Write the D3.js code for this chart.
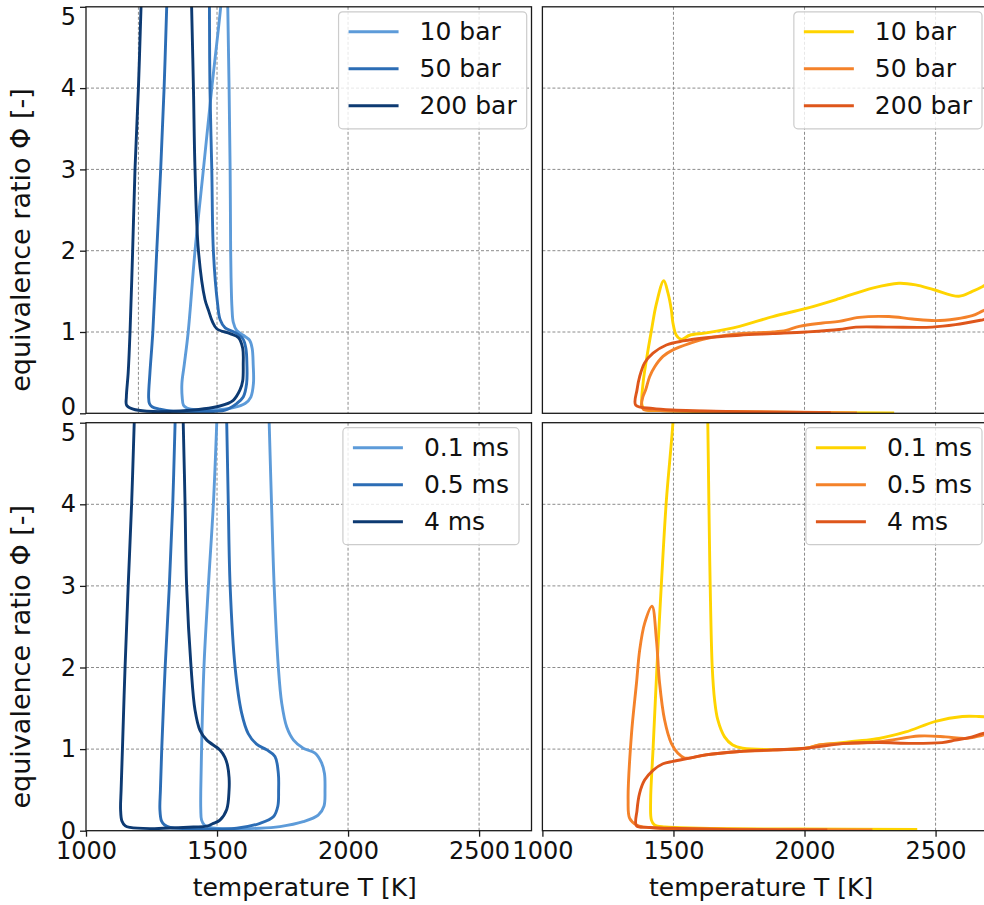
<!DOCTYPE html>
<html>
<head>
<meta charset="utf-8">
<script src="https://cdn.jsdelivr.net/npm/d3@7"></script>
<style>
  html, body { margin: 0; padding: 0; background: #fff; }
  svg { display: block; font-family: "DejaVu Sans", sans-serif; }
</style>
</head>
<body>
<svg id="chart" width="984" height="905"></svg>
<script>
// ---- axis ticks and legend labels ----
const tempTicks = [1000, 1500, 2000, 2500];
const phiTicks = [0, 1, 2, 3, 4, 5];
const pressureLabels = ["10 bar", "50 bar", "200 bar"];
const timeLabels = ["0.1 ms", "0.5 ms", "4 ms"];
const blues = ["#5d9bd9", "#2c6db5", "#0d3a72"];
const warms = ["#ffd400", "#f4822a", "#de561b"];
const refTemps = [1200];

// ---- trajectories [T (K), Φ] ----
// upper left: pressure variation
const blue10bar = [[1516,5.1],[1514,5.0],[1480,4.0],[1448,3.0],[1416,2.0],[1390,1.0],[1375,0.6],[1366,0.37],[1367,0.2],[1372,0.1],[1385,0.065],[1400,0.05],[1486,0.04],[1562,0.07],[1607,0.12],[1629,0.2],[1639,0.37],[1638,0.6],[1634,0.8],[1624,0.9],[1600,0.96],[1575,1.02],[1562,1.12],[1557,1.3],[1554,1.6],[1552,2.0],[1550,3.0],[1546,4.0],[1541,5.0],[1541,5.1]];
const blue50bar = [[1309,5.1],[1308,5.0],[1298,4.0],[1285,3.0],[1270,2.0],[1255,1.0],[1244,0.5],[1239,0.2],[1242,0.12],[1252,0.08],[1282,0.05],[1333,0.025],[1435,0.022],[1531,0.04],[1575,0.12],[1600,0.2],[1613,0.37],[1614,0.6],[1610,0.8],[1598,0.92],[1565,1.0],[1531,1.05],[1512,1.15],[1502,1.35],[1486,2.0],[1480,3.0],[1473,4.0],[1471,5.0],[1471,5.1]];
const blue200bar = [[1211,5.1],[1210,5.0],[1200,4.0],[1187,3.0],[1178,2.0],[1168,1.0],[1161,0.5],[1154,0.2],[1155,0.1],[1180,0.05],[1232,0.025],[1359,0.028],[1511,0.09],[1562,0.16],[1588,0.29],[1598,0.4],[1600,0.6],[1598,0.8],[1582,0.93],[1550,0.98],[1499,1.04],[1482,1.13],[1467,1.27],[1454,1.4],[1429,2.0],[1416,3.0],[1410,4.0],[1403,5.0],[1402,5.1]];

// upper right: pressure variation
const warm10bar = [[2342,0.004],[1980,0.01],[1600,0.022],[1447,0.034],[1390,0.047],[1380,0.1],[1384,0.37],[1397,0.66],[1416,1.02],[1435,1.35],[1463,1.63],[1479,1.48],[1492,1.27],[1498,1.11],[1511,0.96],[1530,0.91],[1562,0.96],[1625,0.99],[1752,1.07],[1879,1.19],[2006,1.29],[2132,1.41],[2259,1.54],[2360,1.60],[2424,1.58],[2494,1.52],[2589,1.44],[2640,1.50],[2680,1.56],[2710,1.62]];
const warm50bar = [[2200,0.005],[1980,0.012],[1600,0.025],[1450,0.035],[1385,0.05],[1378,0.1],[1383,0.2],[1394,0.29],[1409,0.45],[1428,0.57],[1460,0.70],[1498,0.78],[1562,0.86],[1625,0.92],[1752,0.98],[1879,1.0],[1930,1.02],[1980,1.07],[2069,1.11],[2132,1.13],[2208,1.18],[2322,1.19],[2411,1.16],[2500,1.14],[2576,1.16],[2640,1.20],[2680,1.26],[2710,1.3]];
const warm200bar = [[2100,0.006],[1752,0.02],[1600,0.03],[1497,0.04],[1420,0.06],[1356,0.1],[1361,0.29],[1371,0.45],[1390,0.62],[1422,0.74],[1473,0.84],[1536,0.89],[1625,0.93],[1752,0.96],[1879,0.98],[2006,1.0],[2132,1.03],[2196,1.06],[2322,1.06],[2487,1.06],[2576,1.09],[2680,1.15],[2710,1.17]];

// lower left: residence time variation
const blue01ms = [[1500,5.1],[1499,5.0],[1486,4.0],[1467,3.0],[1450,2.0],[1441,1.0],[1438,0.5],[1438,0.26],[1441,0.13],[1452,0.07],[1470,0.045],[1492,0.03],[1664,0.03],[1740,0.05],[1829,0.11],[1886,0.19],[1908,0.3],[1912,0.5],[1910,0.7],[1899,0.83],[1874,0.95],[1829,1.01],[1792,1.11],[1766,1.27],[1747,1.56],[1734,2.0],[1718,3.0],[1708,4.0],[1699,5.0],[1698,5.1]];
const blue05ms = [[1341,5.1],[1340,5.0],[1331,4.0],[1318,3.0],[1302,2.0],[1289,1.0],[1284,0.5],[1282,0.26],[1288,0.12],[1300,0.07],[1321,0.04],[1378,0.025],[1575,0.03],[1664,0.09],[1715,0.17],[1732,0.3],[1735,0.5],[1734,0.7],[1721,0.91],[1690,0.99],[1651,1.06],[1619,1.19],[1594,1.44],[1569,2.0],[1550,3.0],[1543,4.0],[1537,5.0],[1536,5.1]];
const blue4ms = [[1185,5.1],[1184,5.0],[1174,4.0],[1161,3.0],[1149,2.0],[1139,1.0],[1134,0.5],[1132,0.26],[1137,0.12],[1150,0.06],[1168,0.04],[1244,0.025],[1295,0.03],[1410,0.045],[1461,0.055],[1486,0.09],[1511,0.13],[1537,0.26],[1546,0.5],[1546,0.65],[1540,0.8],[1530,0.9],[1511,0.99],[1461,1.11],[1435,1.23],[1416,1.48],[1401,2.0],[1384,3.0],[1378,4.0],[1371,5.0],[1370,5.1]];

// lower right: residence time variation
const warm01ms = [[2430,0.015],[1980,0.02],[1600,0.03],[1467,0.045],[1428,0.07],[1416,0.13],[1413,0.38],[1422,0.99],[1437,2.0],[1454,3.03],[1473,4.05],[1498,5.0],[1515,6.0],[1625,6.0],[1631,5.0],[1635,4.05],[1640,3.03],[1648,2.0],[1657,1.6],[1669,1.36],[1695,1.15],[1726,1.05],[1764,1.01],[2006,1.01],[2056,1.05],[2284,1.13],[2386,1.21],[2500,1.34],[2602,1.40],[2665,1.40],[2710,1.39]];
const warm05ms = [[2259,0.01],[1904,0.015],[1600,0.02],[1447,0.03],[1359,0.07],[1333,0.15],[1327,0.38],[1340,1.19],[1359,1.81],[1371,2.21],[1390,2.54],[1418,2.75],[1435,2.34],[1447,1.81],[1466,1.36],[1492,1.07],[1517,0.95],[1543,0.89],[1625,0.93],[1752,0.97],[2006,1.01],[2056,1.05],[2284,1.09],[2437,1.16],[2538,1.15],[2614,1.13],[2678,1.17],[2710,1.19]];
const warm4ms = [[2087,0.01],[1752,0.013],[1523,0.027],[1409,0.04],[1359,0.06],[1361,0.25],[1371,0.46],[1390,0.62],[1422,0.74],[1460,0.82],[1498,0.85],[1562,0.89],[1625,0.93],[1752,0.97],[1879,0.99],[2006,1.01],[2158,1.07],[2284,1.08],[2411,1.07],[2525,1.08],[2576,1.11],[2640,1.15],[2678,1.19],[2710,1.21]];

// ---- panel layout ----
const tDomain = [1000, 2700];
const phiDomain = [0, 5];
const cols = [{ x0: 86, x1: 531.5 }, { x0: 542.4, x1: 988 }];
const rows = [{ y0: 6.8, y1: 413.3 }, { y0: 422.7, y1: 830.7 }];

const panels = [
  { col: 0, row: 0, series: [blue10bar, blue50bar, blue200bar], colors: blues, labels: pressureLabels, refs: refTemps, legendRight: 526.7 },
  { col: 1, row: 0, series: [warm10bar, warm50bar, warm200bar], colors: warms, labels: pressureLabels, refs: [], legendRight: 982 },
  { col: 0, row: 1, series: [blue01ms, blue05ms, blue4ms], colors: blues, labels: timeLabels, refs: [], legendRight: 519 },
  { col: 1, row: 1, series: [warm01ms, warm05ms, warm4ms], colors: warms, labels: timeLabels, refs: [], legendRight: 982 }
];

const svg = d3.select("#chart");
const defs = svg.append("defs");
const gridColor = "#8c8c8c";
const fontTick = 24, fontLabel = 25, fontYLabel = 27;
const lineW = 2.9;

panels.forEach((p, i) => {
  const c = cols[p.col], r = rows[p.row];
  const x = d3.scaleLinear().domain(tDomain).range([c.x0, c.x1]);
  const y = d3.scaleLinear().domain(phiDomain).range([r.y1, r.y0]);
  const g = svg.append("g");

  const clipId = "clip" + i;
  defs.append("clipPath").attr("id", clipId)
    .append("rect").attr("x", c.x0).attr("y", r.y0)
    .attr("width", c.x1 - c.x0).attr("height", r.y1 - r.y0);

  // grid
  const grid = g.append("g").attr("clip-path", `url(#${clipId})`);
  grid.selectAll(".gx").data(tempTicks.slice(1).concat(p.refs)).join("line")
    .attr("x1", d => x(d)).attr("x2", d => x(d))
    .attr("y1", r.y0).attr("y2", r.y1)
    .attr("stroke", gridColor).attr("stroke-width", 1).attr("stroke-dasharray", "3,2");
  grid.selectAll(".gy").data(phiTicks.slice(1, -1)).join("line")
    .attr("x1", c.x0).attr("x2", c.x1)
    .attr("y1", d => y(d)).attr("y2", d => y(d))
    .attr("stroke", gridColor).attr("stroke-width", 1).attr("stroke-dasharray", "3,2");

  // trajectories
  const line = d3.line().x(d => x(d[0])).y(d => y(d[1])).curve(d3.curveCatmullRom.alpha(0.5));
  const lines = g.append("g").attr("clip-path", `url(#${clipId})`);
  p.series.forEach((s, k) => {
    lines.append("path").datum(s).attr("d", line)
      .attr("fill", "none").attr("stroke", p.colors[k])
      .attr("stroke-width", lineW).attr("stroke-linejoin", "round").attr("stroke-linecap", "butt");
  });

  // frame
  g.append("rect").attr("x", c.x0).attr("y", r.y0)
    .attr("width", c.x1 - c.x0).attr("height", r.y1 - r.y0)
    .attr("fill", "none").attr("stroke", "#1a1a1a").attr("stroke-width", 1.3);

  // y axis on left column; end labels are nudged inward so they stay clear of the neighbouring panel
  if (p.col === 0) {
    const ya = d3.axisLeft(y).tickValues(phiTicks).tickSize(6).tickPadding(4).tickFormat(d3.format("d"));
    const ag = g.append("g").attr("transform", `translate(${c.x0},0)`).call(ya);
    ag.select(".domain").remove();
    ag.selectAll(".tick line").attr("stroke", "#1a1a1a").attr("stroke-width", 1.3);
    ag.selectAll(".tick text").attr("font-size", fontTick).attr("fill", "#111")
      .attr("font-family", "DejaVu Sans")
      .attr("dy", d => {
        if (d === 5) return "0.74em";
        if (d === 0 && p.row === 0) return "0.03em";
        return "0.32em";
      });
    svg.append("text")
      .attr("transform", `translate(22,${(r.y0 + r.y1) / 2 + 30}) rotate(-90)`)
      .attr("text-anchor", "middle").attr("dominant-baseline", "middle")
      .attr("font-size", fontYLabel).attr("fill", "#111")
      .text("equivalence ratio Φ [-]");
  }

  // x axis on bottom row
  if (p.row === 1) {
    const xa = d3.axisBottom(x).tickValues(tempTicks).tickSize(6).tickPadding(5).tickFormat(d3.format("d"));
    const ag = g.append("g").attr("transform", `translate(0,${r.y1})`).call(xa);
    ag.select(".domain").remove();
    ag.selectAll(".tick line").attr("stroke", "#1a1a1a").attr("stroke-width", 1.3);
    ag.selectAll(".tick text").attr("font-size", fontTick).attr("fill", "#111")
      .attr("font-family", "DejaVu Sans");
    svg.append("text")
      .attr("x", (c.x0 + Math.min(c.x1, c.x0 + 445.5)) / 2 - 4).attr("y", 896)
      .attr("text-anchor", "middle")
      .attr("font-size", fontLabel).attr("fill", "#111")
      .text("temperature T [K]");
  }

  // legend
  const lg = g.append("g");
  const box = lg.append("rect");
  const tNodes = [];
  p.labels.forEach((lab, k) => {
    const ly = r.y0 + 25 + k * 37;
    lg.append("line").attr("class", "lgl").attr("stroke", p.colors[k]).attr("stroke-width", lineW)
      .attr("y1", ly).attr("y2", ly);
    tNodes.push(lg.append("text").attr("y", ly).attr("dominant-baseline", "central")
      .attr("font-size", fontLabel).attr("fill", "#111").text(lab));
  });
  const maxW = d3.max(tNodes, n => n.node().getComputedTextLength());
  const right = p.legendRight;
  const left = right - (10 + 50 + 21 + maxW + 10);
  box.attr("x", left).attr("y", r.y0 + 5).attr("width", right - left).attr("height", 117)
    .attr("rx", 4).attr("fill", "#fff").attr("fill-opacity", 0.8)
    .attr("stroke", "#cccccc").attr("stroke-width", 1.2);
  lg.selectAll(".lgl").attr("x1", left + 10).attr("x2", left + 60);
  tNodes.forEach(n => n.attr("x", left + 81));
});
</script>
</body>
</html>
